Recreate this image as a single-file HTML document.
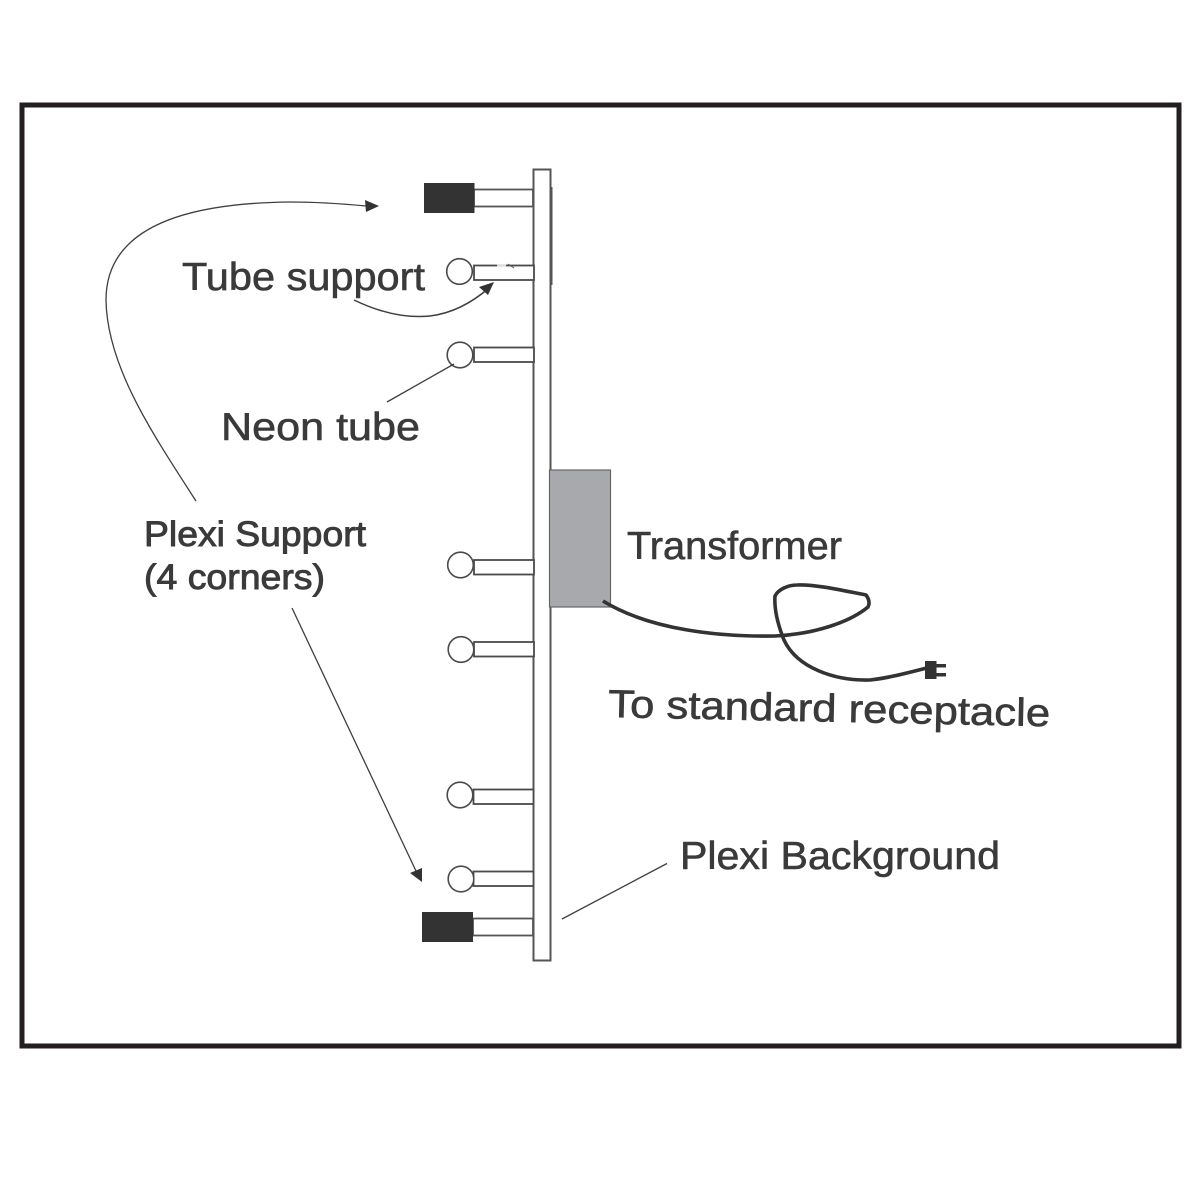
<!DOCTYPE html>
<html>
<head>
<meta charset="utf-8">
<style>
html,body{margin:0;padding:0;background:#fff}
svg{display:block}
text{font-family:"Liberation Sans",sans-serif;fill:#3a3a3a;stroke:#3a3a3a;stroke-width:.6}
</style>
</head>
<body>
<svg width="1201" height="1201" viewBox="0 0 1201 1201" xmlns="http://www.w3.org/2000/svg">
<rect width="1201" height="1201" fill="#fff"/>
<rect x="22" y="105" width="1157" height="941" fill="#fff" stroke="#231f20" stroke-width="5"/>

<!-- plexi background -->
<rect x="533.5" y="169.5" width="17" height="791" fill="#fff" stroke="#555" stroke-width="2"/>
<line x1="551.5" y1="187" x2="551.5" y2="285" stroke="#555" stroke-width="2"/>

<!-- transformer -->
<rect x="549.5" y="470" width="61" height="137" fill="#a7a9ac" stroke="#666" stroke-width="1.2"/>

<!-- corner supports -->
<g fill="#fff" stroke="#555" stroke-width="1.8">
<rect x="474" y="189.5" width="59" height="17"/>
<rect x="473" y="918.5" width="60" height="17"/>
</g>
<rect x="424" y="183" width="50.5" height="30" fill="#333"/>
<rect x="422" y="912" width="51" height="30" fill="#333"/>

<!-- tube supports -->
<g fill="#fff" stroke="#4a4a4a" stroke-width="1.8">
<rect x="474" y="265.500" width="60" height="14.500"/>
<rect x="474" y="347.500" width="60" height="14.500"/>
<rect x="474" y="560" width="60" height="14.500"/>
<rect x="474" y="642" width="60" height="14.500"/>
<rect x="473.500" y="789.500" width="60" height="14.500"/>
<rect x="473.500" y="871.500" width="60" height="14.500"/>
</g>
<path d="M497 265.500H506" stroke="#ddd" stroke-width="2.500"/>
<path d="M508 264L514 268" stroke="#555" stroke-width="1" fill="none"/>

<!-- neon tubes -->
<g fill="#fff" stroke="#4a4a4a" stroke-width="1.600">
<circle cx="459.500" cy="271.500" r="12.800"/>
<circle cx="460" cy="355" r="12.800"/>
<circle cx="460.500" cy="565" r="12.800"/>
<circle cx="461" cy="649.500" r="12.800"/>
<circle cx="460" cy="795" r="12.800"/>
<circle cx="461" cy="879" r="12.800"/>
</g>

<!-- leaders -->
<g fill="none" stroke="#3f3f3f" stroke-width="1.300">
<path d="M196 501C150 430 107 365 106 300C106 225 190 203 290 202C320 202 345 204 366 206"/>
<path d="M354 300C385 315 410 318 430 316C455 313 475 300 489 288" stroke-width="1.500"/>
<path d="M387 402L454 364"/>
<path d="M292 608L416 871"/>
<path d="M562 919L667 863.500"/>
</g>
<g fill="#333">
<polygon points="379,206 365,200 366,212"/>
<polygon points="494,282 479,287 488,295"/>
<polygon points="422,882 410,873 422,868"/>
</g>

<!-- cord -->
<path d="M603 601C650 630 720 637 775 636C815 634 850 622 868 607C870 603 869 599 866 595C845 591 815 584 797 585C787 585 778 590 775 596C774 610 778 625 784 640C797 668 835 681 870 680C890 678 910 672 927 668" fill="none" stroke="#333" stroke-width="3.600" stroke-linejoin="round"/>
<rect x="925" y="661" width="11.500" height="18" fill="#333"/>
<rect x="935" y="664" width="11" height="3.500" fill="#333"/>
<rect x="935" y="673" width="11" height="3.500" fill="#333"/>

<!-- labels -->
<text x="182" y="290" font-size="39" textLength="243" lengthAdjust="spacingAndGlyphs">Tube support</text>
<text x="221" y="440" font-size="39" textLength="199" lengthAdjust="spacingAndGlyphs">Neon tube</text>
<text x="627" y="559" font-size="39" textLength="215" lengthAdjust="spacingAndGlyphs">Transformer</text>
<text transform="translate(608 717) rotate(1.200)" font-size="39" textLength="442" lengthAdjust="spacingAndGlyphs">To standard receptacle</text>
<text x="680" y="869" font-size="39" textLength="320" lengthAdjust="spacingAndGlyphs">Plexi Background</text>
<text x="144" y="546" font-size="35" textLength="222" lengthAdjust="spacingAndGlyphs" style="stroke-width:.9">Plexi Support</text>
<text x="144" y="589" font-size="35" textLength="181" lengthAdjust="spacingAndGlyphs" style="stroke-width:.9">(4 corners)</text>
</svg>
</body>
</html>
